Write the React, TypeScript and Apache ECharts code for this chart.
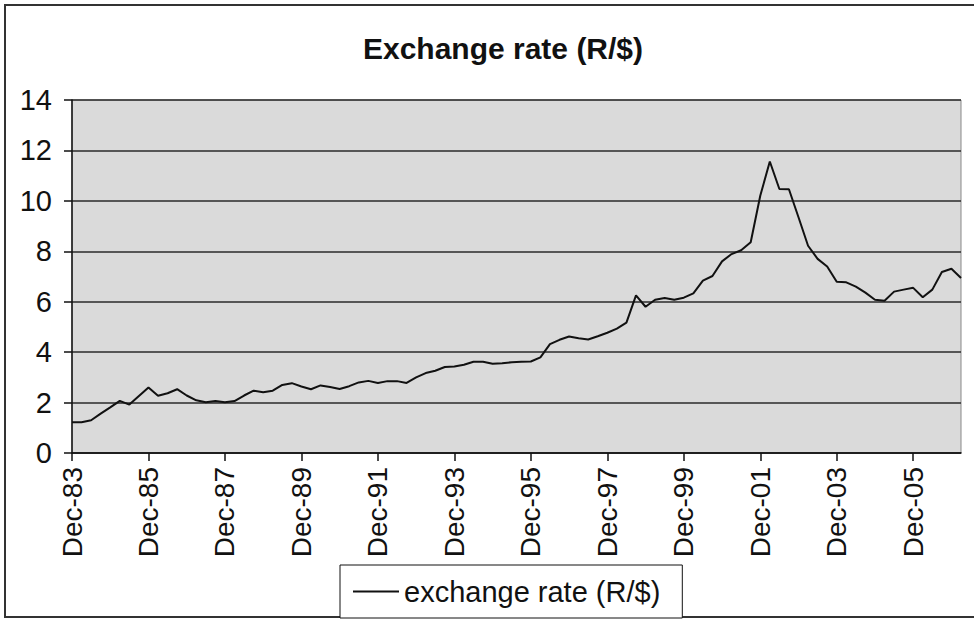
import React, { useEffect, useRef } from "react";
import * as echarts from "echarts";

// Quarterly observations, Dec-83 through Mar-07
const categories = [
  "Dec-83",
  "Mar-84", "Jun-84", "Sep-84", "Dec-84",
  "Mar-85", "Jun-85", "Sep-85", "Dec-85",
  "Mar-86", "Jun-86", "Sep-86", "Dec-86",
  "Mar-87", "Jun-87", "Sep-87", "Dec-87",
  "Mar-88", "Jun-88", "Sep-88", "Dec-88",
  "Mar-89", "Jun-89", "Sep-89", "Dec-89",
  "Mar-90", "Jun-90", "Sep-90", "Dec-90",
  "Mar-91", "Jun-91", "Sep-91", "Dec-91",
  "Mar-92", "Jun-92", "Sep-92", "Dec-92",
  "Mar-93", "Jun-93", "Sep-93", "Dec-93",
  "Mar-94", "Jun-94", "Sep-94", "Dec-94",
  "Mar-95", "Jun-95", "Sep-95", "Dec-95",
  "Mar-96", "Jun-96", "Sep-96", "Dec-96",
  "Mar-97", "Jun-97", "Sep-97", "Dec-97",
  "Mar-98", "Jun-98", "Sep-98", "Dec-98",
  "Mar-99", "Jun-99", "Sep-99", "Dec-99",
  "Mar-00", "Jun-00", "Sep-00", "Dec-00",
  "Mar-01", "Jun-01", "Sep-01", "Dec-01",
  "Mar-02", "Jun-02", "Sep-02", "Dec-02",
  "Mar-03", "Jun-03", "Sep-03", "Dec-03",
  "Mar-04", "Jun-04", "Sep-04", "Dec-04",
  "Mar-05", "Jun-05", "Sep-05", "Dec-05",
  "Mar-06", "Jun-06", "Sep-06", "Dec-06",
  "Mar-07",
];

const exchangeRate = [
  1.22,
  1.22, 1.3, 1.56, 1.81,
  2.07, 1.92, 2.26, 2.6,
  2.27, 2.37, 2.53, 2.28,
  2.09, 2.01, 2.06, 2.01,
  2.06, 2.28, 2.47, 2.41,
  2.47, 2.7, 2.77, 2.64,
  2.53, 2.68, 2.62, 2.54,
  2.65, 2.8, 2.86, 2.78,
  2.85, 2.85, 2.78, 3.0,
  3.17, 3.26, 3.41, 3.43,
  3.5, 3.62, 3.62, 3.54,
  3.56, 3.6, 3.62, 3.63,
  3.79, 4.32, 4.49, 4.62,
  4.55, 4.5, 4.63, 4.77,
  4.93, 5.17, 6.25, 5.8,
  6.08, 6.15, 6.08, 6.16,
  6.33, 6.84, 7.02, 7.6,
  7.89, 8.04, 8.36, 10.2,
  11.56, 10.47, 10.46, 9.35,
  8.22, 7.7, 7.4, 6.79,
  6.77, 6.6, 6.36, 6.08,
  6.04, 6.4, 6.48, 6.55,
  6.18, 6.48, 7.18, 7.31,
  6.94,
];

const yTicks = { min: 0, max: 14, step: 2 };

const titleText = "Exchange rate (R/$)";
const seriesName = "exchange rate (R/$)";

const FONT = "Liberation Sans, Arial, Helvetica, sans-serif";

export default function App() {
  const ref = useRef<HTMLDivElement>(null);

  useEffect(() => {
    if (!ref.current) return;
    const chart = echarts.init(ref.current, null, { renderer: "svg" });
    chart.setOption({
      animation: false,
      backgroundColor: "#ffffff",
      title: {
        text: titleText,
        left: 498,
        textAlign: "center",
        top: 28,
        textStyle: {
          fontFamily: FONT,
          fontSize: 30,
          fontWeight: "bold",
          color: "#111",
        },
      },
      grid: {
        left: 72,
        right: 13,
        top: 100,
        bottom: 169,
        show: true,
        backgroundColor: "#dadada",
        borderColor: "#8a8a8a",
        borderWidth: 1,
      },
      legend: {
        data: [seriesName],
        left: 340,
        top: 565,
        orient: "horizontal",
        backgroundColor: "#ffffff",
        borderColor: "#111",
        borderWidth: 1,
        padding: [12, 22, 12, 12],
        itemWidth: 46,
        itemHeight: 14,
        itemGap: 6,
        itemStyle: { opacity: 0 },
        lineStyle: { color: "#111", width: 2 },
        textStyle: { fontFamily: FONT, fontSize: 29, color: "#111" },
      },
      xAxis: {
        type: "category",
        data: categories,
        boundaryGap: false,
        axisLine: { show: true, lineStyle: { color: "#111", width: 1.5 } },
        axisTick: {
          show: true,
          interval: 7,
          length: 8,
          inside: false,
          lineStyle: { color: "#111", width: 1.5 },
        },
        axisLabel: {
          interval: 7,
          rotate: 90,
          margin: 14,
          fontFamily: FONT,
          fontSize: 28,
          color: "#111",
        },
        splitLine: { show: false },
      },
      yAxis: {
        type: "value",
        min: yTicks.min,
        max: yTicks.max,
        interval: yTicks.step,
        axisLine: { show: true, lineStyle: { color: "#111", width: 1.5 } },
        axisTick: { show: true, length: 8, lineStyle: { color: "#111", width: 1.5 } },
        axisLabel: {
          margin: 20,
          fontFamily: FONT,
          fontSize: 29,
          color: "#111",
        },
        splitLine: { show: true, lineStyle: { color: "#2a2a2a", width: 1.5 } },
      },
      series: [
        {
          name: seriesName,
          type: "line",
          data: exchangeRate,
          symbol: "none",
          lineStyle: { color: "#111", width: 2 },
          itemStyle: { color: "#111" },
        },
      ],
      graphic: [
        {
          type: "rect",
          silent: true,
          z: -1,
          shape: { x: 5, y: 5, width: 1000, height: 612 },
          style: { fill: "none", stroke: "#333", lineWidth: 2 },
        },
      ],
    });
    return () => chart.dispose();
  }, []);

  return (
    <div
      ref={ref}
      style={{ position: "fixed", left: 0, top: 0, width: 974, height: 622 }}
    />
  );
}
